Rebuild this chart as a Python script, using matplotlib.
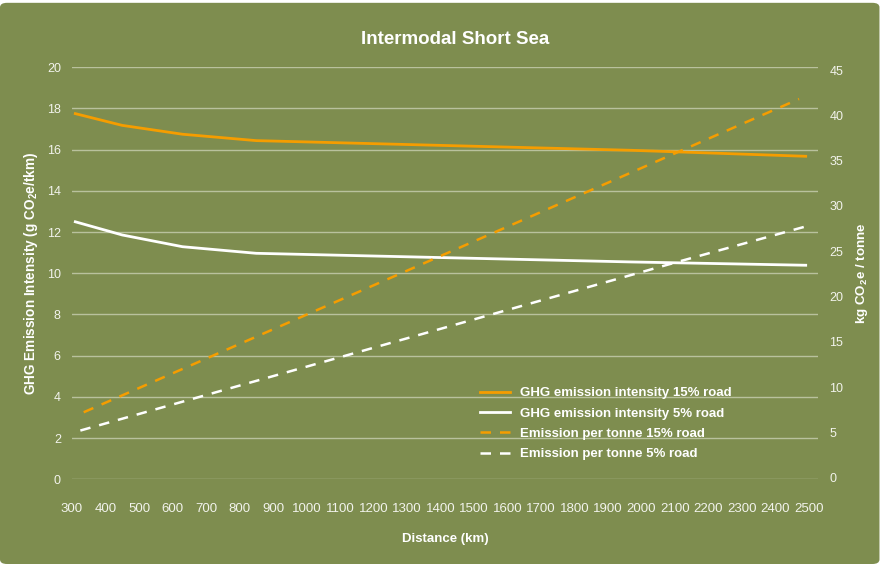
import matplotlib
matplotlib.use("Agg")
import matplotlib.pyplot as plt
from matplotlib.patches import FancyBboxPatch

# distances (km) for the intensity curves
dist_intensity = [310, 450, 630, 850, 1970, 2490]
ghg_15_road = [17.75, 17.18, 16.75, 16.44, 15.97, 15.68]
ghg_5_road = [12.50, 11.86, 11.29, 10.97, 10.55, 10.39]

# distances (km) for the per-tonne lines
dist_tonne_15 = [335, 2106, 2470]
tonne_15_road = [7.22, 35.9, 41.8]
dist_tonne_5 = [325, 2106, 2497]
tonne_5_road = [5.2, 23.8, 27.8]

x_ticks = list(range(300, 2600, 100))
left_ticks = list(range(0, 22, 2))
right_ticks = list(range(0, 50, 5))

BG = "#7e8d4f"
ORANGE = "#f59d00"
WHITE = "#ffffff"
TEXT = "#f2f3ec"
GRID = "#b9c19d"

plt.rcParams["font.family"] = ["Liberation Sans", "DejaVu Sans"]
plt.rcParams["mathtext.fontset"] = "custom"
plt.rcParams["mathtext.rm"] = "Liberation Sans:bold"
plt.rcParams["mathtext.it"] = "Liberation Sans:bold"
plt.rcParams["mathtext.bf"] = "Liberation Sans:bold"

fig = plt.figure(figsize=(8.83, 5.64), dpi=100)
fig.patch.set_facecolor("white")
fig.patches.append(FancyBboxPatch((0, 0), 0.996, 0.995, boxstyle="round,pad=0,rounding_size=0.008",
                                  transform=fig.transFigure, facecolor=BG, edgecolor="none", zorder=-5))

ax = fig.add_axes([0.0815, 0.1502, 0.845, 0.7305])
ax.set_facecolor("none")
ax2 = ax.twinx()

l1, = ax.plot(dist_intensity, ghg_15_road, color=ORANGE, lw=2.0, label="GHG emission intensity 15% road")
l2, = ax.plot(dist_intensity, ghg_5_road, color=WHITE, lw=2.0, label="GHG emission intensity 5% road")
l3, = ax2.plot(dist_tonne_15, tonne_15_road, color=ORANGE, lw=1.8, dashes=(4.2, 3.6),
               label="Emission per tonne 15% road")
l4, = ax2.plot(dist_tonne_5, tonne_5_road, color=WHITE, lw=1.8, dashes=(4.2, 3.6),
               label="Emission per tonne 5% road")

ax.set_xlim(300, 2527)
ax.set_ylim(0, 20)
ax2.set_ylim(-0.18, 45.3)

ax.set_xticks(x_ticks)
ax.set_yticks(left_ticks)
ax2.set_yticks(right_ticks)

ax.yaxis.grid(True, color=GRID, lw=1.0)
ax.set_axisbelow(True)

for a in (ax, ax2):
    for s in a.spines.values():
        s.set_visible(False)
    a.tick_params(length=0, colors=TEXT, labelsize=9)

ax.tick_params(axis="y", pad=8)
ax2.tick_params(axis="y", pad=8)
ax.tick_params(axis="x", pad=17)
for lab in ax.get_xticklabels():
    lab.set_fontfamily(["Liberation Sans Narrow", "Liberation Sans"])
    lab.set_fontsize(9.5)

ax.set_xlabel("Distance (km)", color=WHITE, fontsize=9.5, fontweight="bold", labelpad=13)
ax.set_ylabel(r"GHG Emission Intensity (g CO$_2$e/tkm)", color=WHITE, fontsize=9.8,
              fontweight="bold", labelpad=5)
ax2.set_ylabel(r"kg CO$_2$e / tonne", color=WHITE, fontsize=9.6, fontweight="bold", labelpad=8)

fig.text(0.515, 0.93, "Intermodal Short Sea", ha="center", va="center", color=WHITE,
         fontsize=13.5, fontweight="bold")

leg = ax.legend(handles=[l1, l2, l3, l4], loc="upper left", bbox_to_anchor=(0.530, 0.335),
                bbox_transform=fig.transFigure, frameon=False, handlelength=2.3,
                handletextpad=0.75, labelspacing=0.62, fontsize=9.5)
for t in leg.get_texts():
    t.set_color(WHITE)
    t.set_fontweight("bold")

fig.savefig("out.png", dpi=100, facecolor=fig.get_facecolor())
